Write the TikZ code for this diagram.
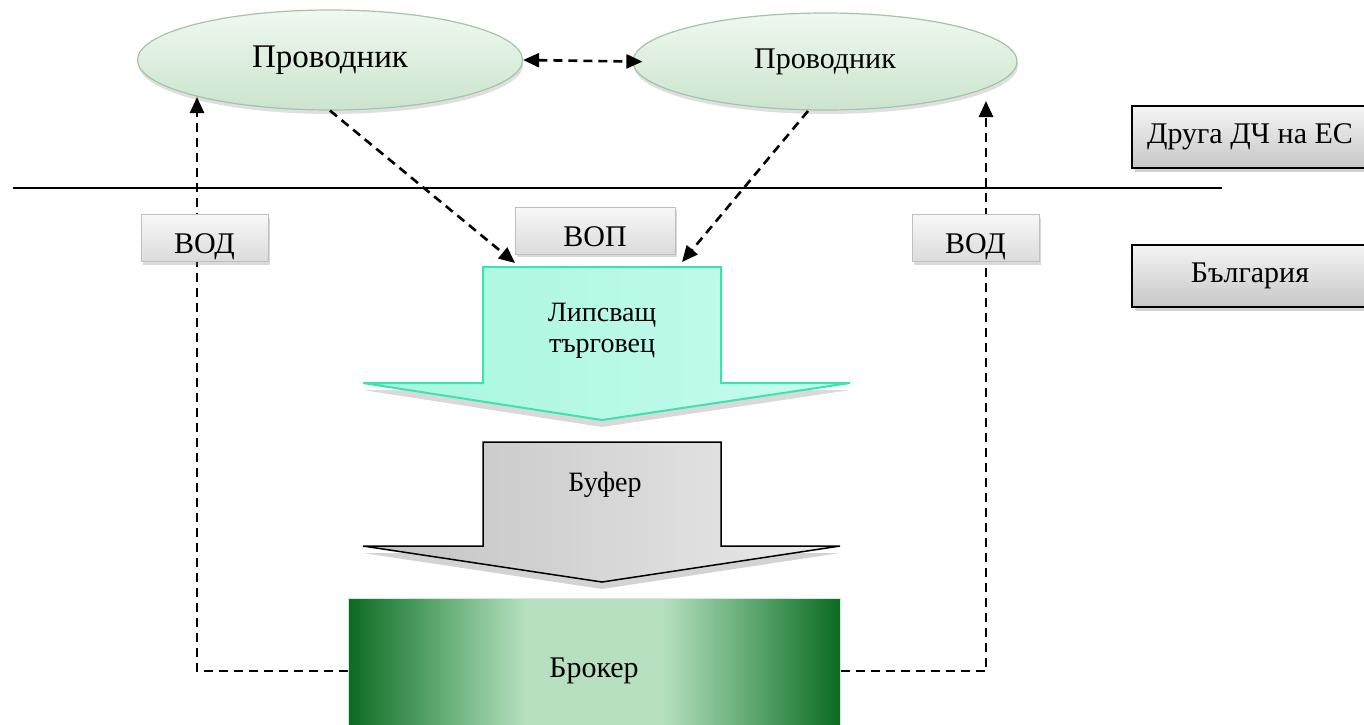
\documentclass[tikz,border=0pt]{standalone}
\usepackage{fontspec}
\setmainfont{Liberation Serif}
\usetikzlibrary{arrows.meta,shadows,shapes.geometric}
\definecolor{dg}{HTML}{0B6A22}
\definecolor{mg}{HTML}{5EA86F}
\definecolor{lg}{HTML}{B6E0C0}
\definecolor{elltop}{HTML}{F0F8F0}
\definecolor{ellbot}{HTML}{CBE4CE}
\definecolor{ellline}{HTML}{A3C4A6}
\definecolor{tealL}{HTML}{A6F6DE}
\definecolor{tealR}{HTML}{C8FCEE}
\definecolor{tealline}{HTML}{3CE3B0}
\pgfdeclarehorizontalshading{brokersh}{100bp}{color(0bp)=(dg); color(25bp)=(dg); color(34bp)=(mg); color(43bp)=(lg); color(57bp)=(lg); color(66bp)=(mg); color(75bp)=(dg); color(100bp)=(dg)}
\begin{document}
\begin{tikzpicture}[x=1pt,y=-1pt,
  fnt/.style={font=\fontsize{#1}{#1}\selectfont},
  ell/.style={ellipse, draw=ellline, line width=1.2pt, top color=elltop, bottom color=ellbot,
    inner sep=0pt, drop shadow={opacity=0.25, shadow xshift=1pt, shadow yshift=-4pt}},
  tagbox/.style={rectangle, draw=black!25, line width=1pt, top color=black!3, bottom color=black!14,
    inner sep=0pt, text height=39pt, text depth=8pt, fnt=30,
    drop shadow={opacity=0.3, shadow xshift=2pt, shadow yshift=-3pt}},
  labbox/.style={rectangle, draw=black, line width=1.5pt, top color=black!4, bottom color=black!22,
    inner sep=0pt, minimum width=236pt, minimum height=62pt, fnt=30,
    drop shadow={opacity=0.35, shadow xshift=3pt, shadow yshift=-4pt}},
  tip/.style={Triangle[length=16pt,width=14pt]},
  conn/.style={line width=2.6pt, dash pattern=on 9pt off 6pt, -{Triangle[length=16pt,width=14pt]}},
  conn2/.style={line width=2.6pt, dash pattern=on 9pt off 6pt, {Triangle[length=16pt,width=14pt]}-{Triangle[length=16pt,width=14pt]}},
  broker/.style={rectangle, draw=lg!60, line width=1pt, shading=brokersh, inner sep=0pt,
    minimum width=492pt, minimum height=146pt, fnt=30}
]
\useasboundingbox (0,0) rectangle (1364,724);
\clip (0,0) rectangle (1364,724);

% ellipses
\node[ell, minimum width=385pt, minimum height=100pt, fnt=33] (pL) at (330,60) {Проводник};
\node[ell, minimum width=384pt, minimum height=97pt, fnt=30] (pR) at (825,61.5) {Проводник};

% divider
\draw[line width=1.5pt] (13,188) -- (1222,188);

% big arrows
\path[draw=tealline, line width=2pt, left color=tealL, right color=tealR,
  drop shadow={opacity=0.3, shadow xshift=0pt, shadow yshift=-7pt}]
  (483,267) -- (721,267) -- (721,383) -- (850,383) -- (602,420) -- (363,383) -- (483,383) -- cycle;
\node[fnt=28, align=center] (lipsa) at (602,331) {Липсващ\\[3pt]търговец};

\path[draw=black, line width=1.5pt, left color=black!24, right color=black!8,
  drop shadow={opacity=0.35, shadow xshift=0pt, shadow yshift=-7pt}]
  (483,442) -- (721,442) -- (721,546) -- (840,546) -- (602,582) -- (363,546) -- (483,546) -- cycle;
\node[fnt=28] (bufer) at (605,485) {Буфер};

% broker
\node[broker] (broker) at (594,671) {Брокер};

% coordinates
\coordinate (tipL) at (515,263);
\coordinate (tipR) at (682,262);
\coordinate (startR) at (808,111);
\coordinate (vodLtip) at (197,97);
\coordinate (vodRtip) at (986,101);

% connectors
\draw[conn2, shorten >=-10pt] (pL.east) -- (pR.west);
\draw[conn] (pL.south) -- (tipL);
\draw[conn] (startR) -- (tipR);
\draw[conn] (broker.west) -| (vodLtip);
\draw[conn] (broker.east) -| (vodRtip);

% tag boxes
\node[tagbox, minimum width=127pt] (vodL) at (204.5,238) {ВОД};
\node[tagbox, minimum width=127pt] (vodR) at (975.5,238) {ВОД};
\node[tagbox, minimum width=160pt] (vop) at (595,230.5) {ВОП};

% label boxes
\node[labbox] (eu) at (1250,137) {Друга ДЧ на ЕС};
\node[labbox] (bg) at (1250,276) {България};
\end{tikzpicture}
\end{document}
